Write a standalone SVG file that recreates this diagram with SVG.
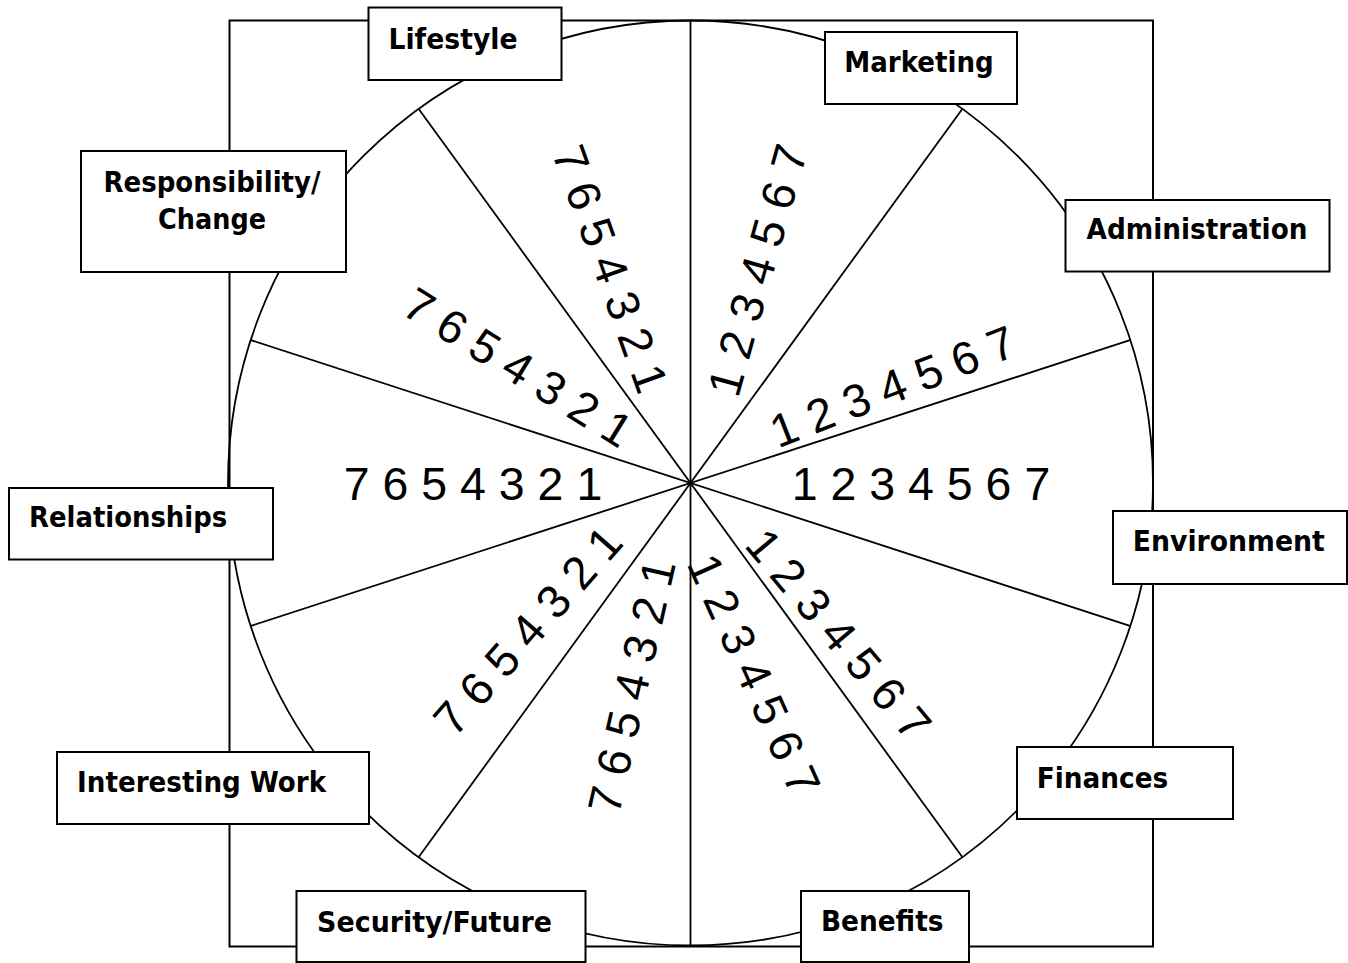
<svg xmlns="http://www.w3.org/2000/svg" width="1348" height="963" viewBox="0 0 1348 963">
<style>
.frame{fill:none;stroke:#000;stroke-width:2}
.wheel{fill:none;stroke:#000;stroke-width:1.8}
.spoke{stroke:#000;stroke-width:1.8;fill:none}
.box{fill:#fff;stroke:#000;stroke-width:2}
.lbl{font-family:"DejaVu Sans","Liberation Sans",sans-serif;font-weight:bold;font-size:28px;fill:#000}
.num{font-family:"Liberation Sans",Arial,sans-serif;font-size:46.5px;fill:#000;text-anchor:middle}
</style>
<rect width="1348" height="963" fill="#fff"/>
<rect class="frame" x="229.5" y="20.5" width="923.5" height="926"/>
<circle class="wheel" cx="690.5" cy="483" r="462.5"/>
<g id="connectors">
<line class="spoke" x1="690.5" y1="20.5" x2="690.5" y2="945.5"/>
<line class="spoke" x1="418.9" y1="109.2" x2="962.1" y2="856.8"/>
<line class="spoke" x1="962.1" y1="109.2" x2="418.9" y2="856.8"/>
<line class="spoke" x1="251.1" y1="340.2" x2="1129.9" y2="625.8"/>
<line class="spoke" x1="1129.9" y1="340.2" x2="251.1" y2="625.8"/>
</g>
<g id="scales">
<text class="num" x="610.7" y="285.3" transform="rotate(70.3 610.7 268.7)">7 6 5 4 3 2 1</text>
<text class="num" x="757" y="286.6" transform="rotate(-74.3 757 270)">1 2 3 4 5 6 7</text>
<text class="num" x="518.3" y="383.6" transform="rotate(31.8 518.3 367)">7 6 5 4 3 2 1</text>
<text class="num" x="892.5" y="402.6" transform="rotate(-21.3 892.5 386)">1 2 3 4 5 6 7</text>
<text class="num" x="921" y="500">1 2 3 4 5 6 7</text>
<text class="num" x="473" y="500">7 6 5 4 3 2 1</text>
<text class="num" x="527.5" y="646.9" transform="rotate(-48.8 527.5 630.3)">7 6 5 4 3 2 1</text>
<text class="num" x="631.2" y="702.8" transform="rotate(-77.2 631.2 686.2)">7 6 5 4 3 2 1</text>
<text class="num" x="754.5" y="691.1" transform="rotate(65.8 754.5 674.5)">1 2 3 4 5 6 7</text>
<text class="num" x="839" y="650.6" transform="rotate(50 839 634)">1 2 3 4 5 6 7</text>
</g>
<g id="node-lifestyle">
<rect class="box" x="368.5" y="7.5" width="193" height="72.5"/>
<text class="lbl" x="388.5" y="48.5" textLength="129" lengthAdjust="spacingAndGlyphs">Lifestyle</text>
</g>
<g id="node-responsibility">
<rect class="box" x="81" y="151" width="265" height="121"/>
<text class="lbl" x="212" y="191.7" text-anchor="middle" textLength="217" lengthAdjust="spacingAndGlyphs">Responsibility/</text>
<text class="lbl" x="212" y="229.3" text-anchor="middle" textLength="108" lengthAdjust="spacingAndGlyphs">Change</text>
</g>
<g id="node-marketing">
<rect class="box" x="825" y="32" width="192" height="72"/>
<text class="lbl" x="844.2" y="71.7" textLength="149.5" lengthAdjust="spacingAndGlyphs">Marketing</text>
</g>
<g id="node-administration">
<rect class="box" x="1065.5" y="200" width="264" height="71.5"/>
<text class="lbl" x="1086.5" y="239.3" textLength="221" lengthAdjust="spacingAndGlyphs">Administration</text>
</g>
<g id="node-relationships">
<rect class="box" x="9" y="488" width="264" height="71.5"/>
<text class="lbl" x="29.1" y="527.3" textLength="198" lengthAdjust="spacingAndGlyphs">Relationships</text>
</g>
<g id="node-environment">
<rect class="box" x="1113" y="511" width="234" height="73"/>
<text class="lbl" x="1132.8" y="551" textLength="192" lengthAdjust="spacingAndGlyphs">Environment</text>
</g>
<g id="node-interesting-work">
<rect class="box" x="57" y="752" width="312" height="72"/>
<text class="lbl" x="77.1" y="791.7" textLength="249" lengthAdjust="spacingAndGlyphs">Interesting Work</text>
</g>
<g id="node-finances">
<rect class="box" x="1017" y="747" width="216" height="72"/>
<text class="lbl" x="1036.8" y="788.3" textLength="131.4" lengthAdjust="spacingAndGlyphs">Finances</text>
</g>
<g id="node-security">
<rect class="box" x="296.5" y="891" width="289" height="71"/>
<text class="lbl" x="317.1" y="931.7" textLength="235" lengthAdjust="spacingAndGlyphs">Security/Future</text>
</g>
<g id="node-benefits">
<rect class="box" x="801" y="891" width="168" height="71"/>
<text class="lbl" x="820.9" y="931" textLength="122.6" lengthAdjust="spacingAndGlyphs">Benefits</text>
</g>
</svg>
